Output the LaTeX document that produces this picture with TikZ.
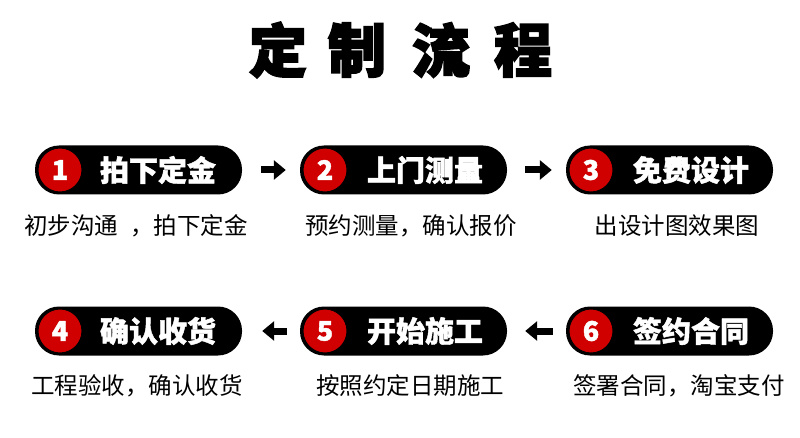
\documentclass[tikz,border=0pt]{standalone}
\usepackage{fontspec}
\setmainfont{Noto Sans CJK SC}
\newfontfamily\cjk{Noto Sans CJK SC}
\newfontfamily\cjkheavy[BoldFeatures={FakeBold=1.5}]{Noto Sans CJK SC}
\newfontfamily\cjktitle[BoldFeatures={FakeBold=3}]{Noto Sans CJK SC}
\usetikzlibrary{arrows.meta}
\definecolor{numred}{HTML}{D00000}
\tikzset{
  pill/.style={fill=black, rounded corners=24pt, minimum width=207pt, minimum height=49pt, inner sep=0pt},
  numdot/.style={circle, fill=numred, draw=black, line width=1pt, minimum size=44pt, inner sep=0pt, text=white, font=\cjkheavy\bfseries\fontsize{27}{27}\selectfont},
  pilltext/.style={text=white, font=\cjkheavy\bfseries\fontsize{29}{29}\selectfont, inner sep=0pt},
  subtext/.style={text=black, font=\cjk\fontsize{23.5}{24}\selectfont, inner sep=0pt},
  titlechar/.style={text=black, font=\cjktitle\bfseries\fontsize{58}{58}\selectfont, inner sep=0pt},
  flow/.style={line width=7pt, -{Triangle[length=12pt,width=19pt]}}
}
\begin{document}
\begin{tikzpicture}[x=1pt,y=-1pt]
\useasboundingbox (0,0) rectangle (800,438);
\fill[white] (0,0) rectangle (800,438);
% title
\node[titlechar] (t1) at (278,50) {定};
\node[titlechar] (t2) at (357,50) {制};
\node[titlechar] (t3) at (441,50) {流};
\node[titlechar] (t4) at (523,50) {程};
% row 1
\node[pill] (p1) at (138.5,170) {};
\node[pill] (p2) at (403.5,170) {};
\node[pill] (p3) at (669.5,170) {};
\node[numdot] (n1) at (60,170) {1};
\node[numdot] (n2) at (325,170) {2};
\node[numdot] (n3) at (591,170) {3};
\node[pilltext] (l1) at (158,170) {拍下定金};
\node[pilltext] (l2) at (425,170) {上门测量};
\node[pilltext] (l3) at (691,170) {免费设计};
\node[subtext] (s1) at (136,226) {初步沟通\hspace{0.5em}，拍下定金};
\node[subtext] (s2) at (411,226) {预约测量，确认报价};
\node[subtext] (s3) at (677,226) {出设计图效果图};
% row 2
\node[pill] (p4) at (138.5,331) {};
\node[pill] (p5) at (403.5,331) {};
\node[pill] (p6) at (669.5,331) {};
\node[numdot] (n4) at (60,331) {4};
\node[numdot] (n5) at (325,331) {5};
\node[numdot] (n6) at (591,331) {6};
\node[pilltext] (l4) at (158,331) {确认收货};
\node[pilltext] (l5) at (425,331) {开始施工};
\node[pilltext] (l6) at (691,331) {签约合同};
\node[subtext] (s4) at (137,386) {工程验收，确认收货};
\node[subtext] (s5) at (410,386) {按照约定日期施工};
\node[subtext] (s6) at (679,386) {签署合同，淘宝支付};
% arrows
\draw[flow, shorten <=19pt, shorten >=14pt] (p1.east) -- (p2.west);
\draw[flow, shorten <=18pt, shorten >=14pt] (p2.east) -- (p3.west);
\draw[flow, shorten <=13pt, shorten >=20pt] (p5.west) -- (p4.east);
\draw[flow, shorten <=13pt, shorten >=18pt] (p6.west) -- (p5.east);
\end{tikzpicture}
\end{document}
